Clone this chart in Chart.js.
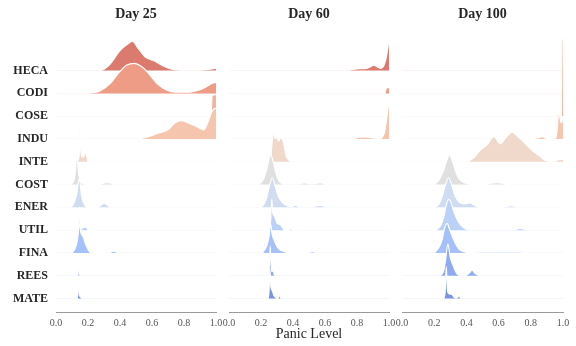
<!DOCTYPE html>
<html>
<head>
<meta charset="utf-8">
<script src="https://cdn.jsdelivr.net/npm/chart.js@4.4.1/dist/chart.umd.min.js"></script>
<style>
  body { margin: 0; background: #fff; }
  #wrap { position: relative; width: 576px; height: 346px; }
  #wrap canvas { position: absolute; left: 0; top: 0; }
</style>
</head>
<body>
<div id="wrap">
  <canvas id="c0" width="576" height="346"></canvas>
  <canvas id="c1" width="576" height="346"></canvas>
  <canvas id="c2" width="576" height="346"></canvas>
</div>
<script>
// rows, top to bottom
const sectors = ['HECA', 'CODI', 'COSE', 'INDU', 'INTE', 'COST', 'ENER', 'UTIL', 'FINA', 'REES', 'MATE'];
const dayTitles = ['Day 25', 'Day 60', 'Day 100'];
const xTicks = [0, 0.2, 0.4, 0.6, 0.8, 1.0];

// density curves per sector as [panic level, height in row units]
const day25 = [
  [[0.275,0],[0.3,0.06],[0.34,0.3],[0.4,0.88],[0.45,1.18],[0.477,1.29],[0.515,0.96],[0.556,0.61],[0.61,0.44],[0.67,0.2],[0.73,0.05],[0.8,0.015],[0.9,0.02],[0.95,0.05],[1.0,0.11]],
  [[0.19,0],[0.24,0.04],[0.275,0.11],[0.34,0.44],[0.39,0.88],[0.44,1.23],[0.49,1.32],[0.53,1.2],[0.57,0.95],[0.63,0.44],[0.69,0.15],[0.75,0.05],[0.83,0.05],[0.88,0.12],[0.92,0.22],[0.96,0.38],[0.98,0.46],[1.0,0.48]],
  [[0.97,0],[0.976,0.9],[1.0,0.95]],
  [[0.525,0],[0.59,0.13],[0.65,0.28],[0.7,0.4],[0.74,0.69],[0.785,0.8],[0.84,0.66],[0.88,0.54],[0.925,0.4],[0.95,0.75],[0.98,1.27],[1.0,1.36]],
  [[0.13,0],[0.145,0.3],[0.15,1.4],[0.155,0.5],[0.165,0.2],[0.175,0.25],[0.18,0.4],[0.19,0.3],[0.2,0]],
  [[0.09,0],[0.11,0.15],[0.12,0.5],[0.13,1.3],[0.14,0.6],[0.15,0.2],[0.17,0.05],[0.2,0],[0.27,0],[0.3,0.07],[0.33,0.08],[0.37,0]],
  [[0.09,0],[0.11,0.15],[0.13,0.6],[0.146,1.3],[0.16,0.5],[0.18,0.1],[0.2,0],[0.26,0],[0.3,0.17],[0.34,0]],
  [[0.13,0],[0.14,0.2],[0.146,1.05],[0.152,0.2],[0.16,0.05],[0.17,0.13],[0.19,0.13],[0.2,0]],
  [[0.1,0],[0.12,0.2],[0.135,0.6],[0.146,1.3],[0.155,0.9],[0.17,0.7],[0.19,0.3],[0.21,0.05],[0.23,0],[0.33,0],[0.36,0.08],[0.39,0]],
  [[0.135,0],[0.14,0.7],[0.145,0.1],[0.15,0]],
  [[0.133,0],[0.14,0.75],[0.145,0.15],[0.155,0.07],[0.16,0]]
];
const day60 = [
  [[0.74,0],[0.78,0.05],[0.82,0.08],[0.86,0.1],[0.88,0.15],[0.905,0.24],[0.93,0.15],[0.95,0.1],[0.97,0.25],[0.985,0.65],[1.0,1.35]],
  [[0.975,0],[0.985,0.25],[1.0,0.25]],
  [[0.98,0],[1.0,0.3]],
  [[0.78,0],[0.81,0.08],[0.85,0.09],[0.89,0.06],[0.94,0.02],[0.97,0.25],[0.99,1.13],[1.0,1.7]],
  [[0.26,0],[0.27,0.9],[0.28,1.25],[0.29,1.0],[0.3,1.1],[0.31,0.9],[0.32,1.05],[0.335,0.95],[0.345,0.7],[0.355,0.3],[0.37,0.1],[0.385,0]],
  [[0.19,0],[0.22,0.3],[0.24,0.8],[0.26,1.3],[0.28,0.9],[0.3,0.35],[0.32,0.1],[0.34,0.02],[0.44,0.03],[0.47,0.08],[0.51,0.03],[0.54,0.05],[0.57,0.08],[0.6,0.02],[0.62,0]],
  [[0.2,0],[0.23,0.3],[0.25,0.85],[0.27,1.3],[0.29,0.9],[0.31,0.45],[0.34,0.17],[0.37,0.05],[0.39,0.03],[0.415,0.1],[0.44,0.02],[0.52,0.02],[0.57,0.1],[0.61,0]],
  [[0.25,0],[0.26,0.4],[0.267,1.36],[0.275,0.7],[0.285,0.6],[0.3,0.3],[0.32,0.25],[0.335,0.1],[0.35,0],[0.375,0],[0.385,0.08],[0.395,0]],
  [[0.21,0],[0.235,0.3],[0.25,0.7],[0.26,1.27],[0.27,0.8],[0.28,0.6],[0.295,0.35],[0.31,0.18],[0.34,0.08],[0.37,0],[0.49,0],[0.52,0.06],[0.55,0]],
  [[0.25,0],[0.258,1.3],[0.265,0.2],[0.275,0.2],[0.285,0]],
  [[0.245,0],[0.25,0.3],[0.256,1.3],[0.262,0.5],[0.27,0.35],[0.28,0.15],[0.29,0.05],[0.305,0],[0.315,0.13],[0.325,0]]
];
const day100 = [
  [[0.99,0],[1.0,0.05]],
  [[0.99,0],[1.0,0.1]],
  [[0.99,0],[0.995,3.4],[1.0,3.4]],
  [[0.53,0],[0.56,0.07],[0.59,0],[0.8,0.02],[0.84,0.05],[0.87,0.1],[0.9,0.02],[0.94,0],[0.955,0.05],[0.965,0.5],[0.973,1.27],[0.982,0.9],[0.99,0.7],[1.0,1.0]],
  [[0.41,0],[0.445,0.17],[0.485,0.5],[0.53,0.75],[0.57,1.1],[0.61,0.79],[0.65,1.1],[0.683,1.3],[0.72,1.1],[0.755,0.88],[0.79,0.62],[0.817,0.45],[0.86,0.23],[0.89,0.05],[0.94,0.02],[0.98,0.1],[1.0,0.1]],
  [[0.2,0],[0.23,0.2],[0.26,0.65],[0.28,1.1],[0.296,1.3],[0.31,1.1],[0.33,0.65],[0.35,0.3],[0.37,0.15],[0.4,0.05],[0.43,0.01],[0.52,0.01],[0.56,0.07],[0.6,0.08],[0.64,0.02],[0.67,0]],
  [[0.2,0],[0.23,0.15],[0.25,0.5],[0.27,1.0],[0.29,1.3],[0.31,0.95],[0.33,0.5],[0.36,0.2],[0.39,0.15],[0.42,0.2],[0.45,0.1],[0.48,0.01],[0.63,0.01],[0.68,0.08],[0.72,0]],
  [[0.21,0],[0.24,0.2],[0.26,0.6],[0.275,1.1],[0.29,1.35],[0.305,1.2],[0.32,0.85],[0.34,0.5],[0.36,0.26],[0.39,0.07],[0.42,0.01],[0.69,0.01],[0.735,0.08],[0.78,0]],
  [[0.2,0],[0.23,0.25],[0.25,0.6],[0.265,1.1],[0.28,1.3],[0.295,1.05],[0.32,0.6],[0.35,0.2],[0.38,0.07],[0.42,0.02],[0.55,0.04],[0.65,0.04],[0.74,0.03],[0.78,0]],
  [[0.24,0],[0.26,0.25],[0.27,0.66],[0.285,1.4],[0.3,0.8],[0.315,0.5],[0.34,0.1],[0.36,0.01],[0.39,0],[0.415,0.1],[0.435,0.23],[0.455,0.1],[0.48,0]],
  [[0.26,0],[0.268,0.3],[0.275,1.4],[0.282,0.4],[0.29,0.22],[0.31,0.18],[0.325,0.05],[0.34,0.02],[0.355,0.12],[0.365,0]]
];
const panels = [day25, day60, day100];

// coolwarm-ish colours, red at the top row to blue at the bottom
const colors = ['#dc7a70', '#ee9c86', '#f4b29c', '#f6c5ae', '#f0d9cb', '#e1e0e0',
                '#d0dcf2', '#bcd1f8', '#a5c0fa', '#90abf2', '#7b94e2'];

// plot area of each panel in the 576x346 page
const panelLeft = [56, 229, 402];
const panelRight = [216, 389, 563];

const serif = '"Liberation Serif", "Times New Roman", serif';
const n = sectors.length;

function faint(hex, a) {
  const r = parseInt(hex.slice(1, 3), 16), g = parseInt(hex.slice(3, 5), 16), b = parseInt(hex.slice(5, 7), 16);
  return `rgba(${r},${g},${b},${a})`;
}

panels.forEach((rows, k) => {
  // lower rows get lower order so they are drawn on top
  const datasets = rows.map((pts, i) => {
    const base = n - 1 - i;
    return {
      label: sectors[i],
      data: pts.map(p => ({ x: p[0], y: base + p[1] })),
      fill: { value: base },
      backgroundColor: colors[i],
      borderColor: '#ffffff',
      borderWidth: 1.2,
      pointRadius: 0,
      cubicInterpolationMode: 'monotone',
      order: base
    };
  });

  new Chart(document.getElementById('c' + k), {
    type: 'line',
    data: { datasets },
    options: {
      responsive: false,
      animation: false,
      devicePixelRatio: 1,
      layout: {
        padding: { left: k === 0 ? 0 : panelLeft[k], right: 576 - panelRight[k], top: 0, bottom: 0 }
      },
      plugins: {
        legend: { display: false },
        tooltip: { enabled: false },
        title: {
          display: true,
          text: dayTitles[k],
          fullSize: false,
          color: '#262626',
          font: { family: serif, size: 14, weight: 'bold' },
          padding: { top: 6, bottom: 12 }
        }
      },
      scales: {
        x: {
          type: 'linear',
          min: 0,
          max: 1,
          afterBuildTicks: s => { s.ticks = xTicks.map(v => ({ value: v })); },
          afterFit: s => { s.height = 34; s.paddingLeft = 0; s.paddingRight = 0; },
          grid: { display: false, drawTicks: false },
          border: { display: true, color: '#9a9a9a', width: 1 },
          ticks: {
            color: '#555555',
            padding: 5,
            maxRotation: 0,
            font: { family: serif, size: 10 },
            callback: v => Number(v).toFixed(1)
          },
          title: {
            display: k === 1,
            text: 'Panic Level',
            color: '#262626',
            font: { family: serif, size: 14 },
            padding: { top: 0, bottom: 3 }
          }
        },
        y: {
          type: 'linear',
          min: -0.59,
          max: 11.57,
          afterBuildTicks: s => { s.ticks = sectors.map((_, i) => ({ value: n - 1 - i })); },
          afterFit: s => { s.width = k === 0 ? 56 : 0; s.paddingTop = 0; s.paddingBottom = 0; },
          border: { display: false },
          grid: {
            drawTicks: false,
            lineWidth: 1,
            color: c => faint(colors[n - 1 - c.tick.value], 0.09)
          },
          ticks: {
            display: k === 0,
            padding: 8,
            color: '#262626',
            font: { family: serif, size: 12, weight: 'bold' },
            callback: v => sectors[n - 1 - v]
          }
        }
      }
    }
  });
});
</script>
</body>
</html>
